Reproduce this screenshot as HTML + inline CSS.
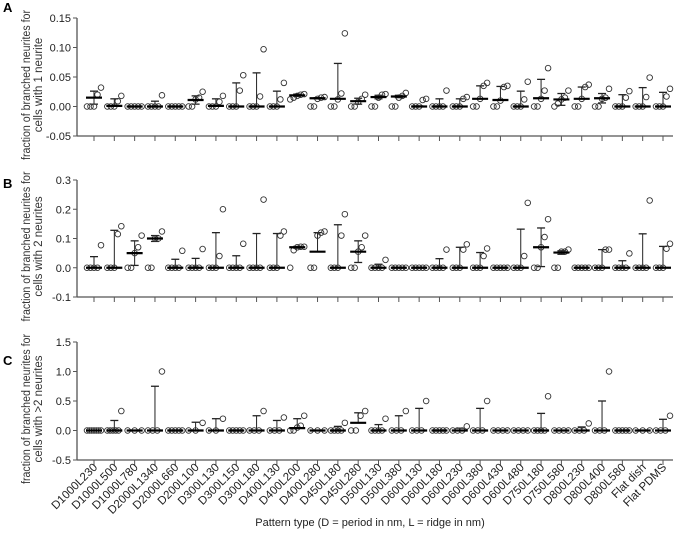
<!DOCTYPE html>
<html><head><meta charset="utf-8"><style>
html,body{margin:0;padding:0;background:#fff;}
svg{display:block;font-family:"Liberation Sans",Arial,sans-serif;}
</style></head><body>
<svg id="chart" width="676" height="535" viewBox="0 0 676 535" xmlns="http://www.w3.org/2000/svg"></svg>
<script>
const categories = ["D1000L230","D1000L500","D1000L780","D2000L1340","D2000L660","D200L100","D300L130","D300L150","D300L180","D400L130","D400L200","D400L280","D450L180","D450L280","D500L130","D500L380","D600L130","D600L180","D600L230","D600L380","D600L430","D600L480","D750L180","D750L580","D800L230","D800L400","D800L580","Flat dish","Flat PDMS"];
const ticksA = [-0.05,0,0.05,0.10,0.15];
const tickLabelsA = ["-0.05","0.00","0.05","0.10","0.15"];
const ticksB = [-0.1,0,0.1,0.2,0.3];
const tickLabelsB = ["-0.1","0.0","0.1","0.2","0.3"];
const ticksC = [-0.5,0,0.5,1.0,1.5];
const tickLabelsC = ["-0.5","0.0","0.5","1.0","1.5"];
const pointsA = [[0,0,0,0.02,0.032],[0,0,0,0.009,0.018],[0,0,0,0,0],[0,0,0,0,0.019],[0,0,0,0,0],[0,0,0.012,0.015,0.025],[0,0,0,0.008,0.018],[0,0,0,0.027,0.053],[0,0,0,0.017,0.097],[0,0,0,0.012,0.04],[0.012,0.015,0.018,0.02,0.021],[0,0,0.013,0.015,0.016],[0,0,0.012,0.022,0.124],[0,0,0.008,0.013,0.02],[0,0,0.015,0.02,0.021],[0,0,0.015,0.018,0.023],[0,0,0,0.011,0.013],[0,0,0,0,0.027],[0,0,0,0.013,0.016],[0,0,0.013,0.035,0.04],[0,0,0.01,0.033,0.035],[0,0,0,0.012,0.042],[0,0,0.013,0.027,0.065],[0,0.005,0.012,0.015,0.027],[0,0,0.013,0.033,0.037],[0,0,0.013,0.015,0.03],[0,0,0,0.015,0.026],[0,0,0,0.016,0.049],[0,0,0,0.017,0.03]];
const meanA = [0.015,0.001,0,0,0,0.011,0.001,0,0,0,0.019,0.014,0.013,0.009,0.016,0.017,0,0,0,0.013,0.011,0,0.014,0.012,0.013,0.014,0,0,0];
const topA = [0.026,0.013,0,0.009,0,0.018,0.013,0.040,0.057,0.026,0.021,0.015,0.073,0.014,0.019,0.019,0.001,0.013,0.013,0.035,0.034,0.026,0.046,0.022,0.033,0.022,0.02,0.032,0.024];
const pointsB = [[0,0,0,0,0.077],[0,0,0,0.115,0.142],[0,0,0.05,0.07,0.11],[0,0,0.1,0.1,0.124],[0,0,0,0,0.058],[0,0,0,0,0.064],[0,0,0,0.04,0.2],[0,0,0,0,0.082],[0,0,0,0,0.233],[0,0,0,0.11,0.124],[0,0.06,0.07,0.072,0.072],[0,0,0.11,0.12,0.124],[0,0,0,0.11,0.183],[0,0,0.055,0.07,0.11],[0,0,0,0,0.027],[0,0,0,0,0],[0,0,0,0,0],[0,0,0,0,0.062],[0,0,0,0.062,0.08],[0,0,0,0.04,0.066],[0,0,0,0,0],[0,0,0,0.04,0.222],[0,0,0.07,0.105,0.166],[0,0,0.055,0.055,0.062],[0,0,0,0,0],[0,0,0,0.062,0.062],[0,0,0,0,0.049],[0,0,0,0,0.23],[0,0,0,0.065,0.082]];
const meanB = [0,0,0.05,0.1,0,0,0,0,0,0,0.07,0.055,0,0.055,0,0,0,0,0,0,0,0,0.07,0.052,0,0,0,0,0];
const topB = [0.038,0.128,0.092,0.11,0.029,0.032,0.12,0.041,0.117,0.117,0.073,0.12,0.147,0.092,0.012,0,0,0.031,0.07,0.052,0,0.132,0.136,0.058,0,0.062,0.024,0.116,0.073];
const pointsC = [[0,0,0,0,0,0,0],[0,0,0,0,0,0.33],[0,0,0],[0,0,0,1.0],[0,0,0,0,0],[0,0,0.13],[0,0,0.2],[0,0,0,0,0],[0,0,0,0.33],[0,0,0,0.22],[0,0,0.05,0.08,0.25],[0,0,0],[0,0,0,0,0.13],[0,0,0.25,0.33],[0,0,0,0,0.2],[0,0,0,0.33],[0,0,0,0.5],[0,0,0,0,0],[0,0,0,0.07],[0,0,0,0.5],[0,0,0,0],[0,0,0,0],[0,0,0,0,0.58],[0,0,0,0],[0,0,0,0.12],[0,0,0,1.0],[0,0,0,0,0],[0,0,0],[0,0,0,0.25]];
const meanC = [0,0,0,0,0,0,0,0,0,0,0.04,0,0,0.13,0,0,0,0,0,0,0,0,0,0,0,0,0,0,0];
const topC = [0,0.17,0,0.75,0,0.14,0.2,0,0.25,0.17,0.2,0,0.07,0.3,0.1,0.25,0.375,0,0.04,0.375,0,0,0.29,0,0.06,0.5,0,0,0.19];

const NS="http://www.w3.org/2000/svg";
const svg=document.getElementById('chart');
function mk(tag,attrs,parent){const e=document.createElementNS(NS,tag);for(const k in attrs)e.setAttribute(k,attrs[k]);(parent||svg).appendChild(e);return e;}
const AX=77, AXR=673, X0=94, X1=663;
function xPos(i){return X0+i*(X1-X0)/(categories.length-1);}
const panels=[
 {id:'a',letter:'A',ly:12,yTop:18,yBot:136,ticks:ticksA,labels:tickLabelsA,pts:pointsA,mean:meanA,top:topA,t1:"fraction of branched neurites for",t2:"cells with 1 neurite"},
 {id:'b',letter:'B',ly:188,yTop:180,yBot:297,ticks:ticksB,labels:tickLabelsB,pts:pointsB,mean:meanB,top:topB,t1:"fraction of branched neurites for",t2:"cells with 2 neurites"},
 {id:'c',letter:'C',ly:365,yTop:342,yBot:460,ticks:ticksC,labels:tickLabelsC,pts:pointsC,mean:meanC,top:topC,t1:"fraction of branched neurites for",t2:"cells with >2 neurites"}
];
panels.forEach(p=>{
 const lo=p.ticks[0], hi=p.ticks[p.ticks.length-1];
 const y=v=>p.yBot-(v-lo)/(hi-lo)*(p.yBot-p.yTop);
 const g=mk('g',{});
 
 
 const L=mk('text',{x:3,y:p.ly,'font-size':13,'font-weight':'bold',fill:'#000'},g);L.textContent=p.letter;
 
 
 const cy=(p.yTop+p.yBot)/2+8;
 const t=mk('text',{'font-size':11.5,fill:'#333','text-anchor':'middle'},g);
 t.setAttribute('transform',`translate(30,${cy}) rotate(-90)`);
 
 
 const s1=mk('tspan',{x:0,y:0,textLength:150,lengthAdjust:'spacingAndGlyphs'},t);s1.textContent=p.t1;
 const s2=mk('tspan',{x:0,y:12},t);s2.textContent=p.t2;
 const ya=mk('line',{x1:AX,x2:AX,y1:p.yTop,y2:p.yBot,stroke:'#555','stroke-width':1.3},g);
 
 
 const xa=mk('line',{x1:AX,x2:AXR,y1:p.yBot,y2:p.yBot,stroke:'#555','stroke-width':1.3},g);
 
 
 p.ticks.forEach((v,k)=>{
  mk('line',{x1:AX-4,x2:AX,y1:y(v),y2:y(v),stroke:'#555'},g);
  const tl=mk('text',{x:AX-6,y:y(v)+4,'font-size':11,'text-anchor':'end',fill:'#222'},g);
  tl.textContent=p.labels[k];
  
  
 });
 categories.forEach((c,i)=>{
  const x=xPos(i);
  mk('line',{x1:x,x2:x,y1:p.yBot,y2:p.yBot+5,stroke:'#555'},g);
  const grp=mk('g',{},g);
  
  
  const m=p.mean[i], tp=p.top[i], sd=tp-m;
  if(sd>0){
   mk('line',{x1:x,x2:x,y1:y(m),y2:y(tp),stroke:'#222','stroke-width':1},grp);
   mk('line',{x1:x-4,x2:x+4,y1:y(tp),y2:y(tp),stroke:'#222','stroke-width':1.3},grp);
   if(m-sd>0){
    mk('line',{x1:x,x2:x,y1:y(m),y2:y(m-sd),stroke:'#222'},grp);
    mk('line',{x1:x-4,x2:x+4,y1:y(m-sd),y2:y(m-sd),stroke:'#222','stroke-width':1.3},grp);
   }
  }
  const pts=p.pts[i], n=pts.length;
  pts.forEach((v,k)=>{
   const off=n>1?(k-(n-1)/2)*(14/(n-1)):0;
   const ci=mk('circle',{cx:x+off,cy:y(v),r:2.8,fill:'none',stroke:'#333','stroke-width':0.9},grp);
   
   
  });
  const ml=mk('line',{x1:x-8,x2:x+8,y1:y(m),y2:y(m),stroke:'#000','stroke-width':2.2},grp);
  
  
 });
});
categories.forEach((c,i)=>{
 const x=xPos(i)+4;
 const tl=mk('text',{'font-size':11.5,'text-anchor':'end',fill:'#222',transform:`translate(${x},468) rotate(-45)`});
 tl.textContent=c;
 
 
});
const xt=mk('text',{x:370,y:526,'font-size':11,'text-anchor':'middle',fill:'#222'});
xt.textContent="Pattern type (D = period in nm, L = ridge in nm)";


</script>
</body></html>
